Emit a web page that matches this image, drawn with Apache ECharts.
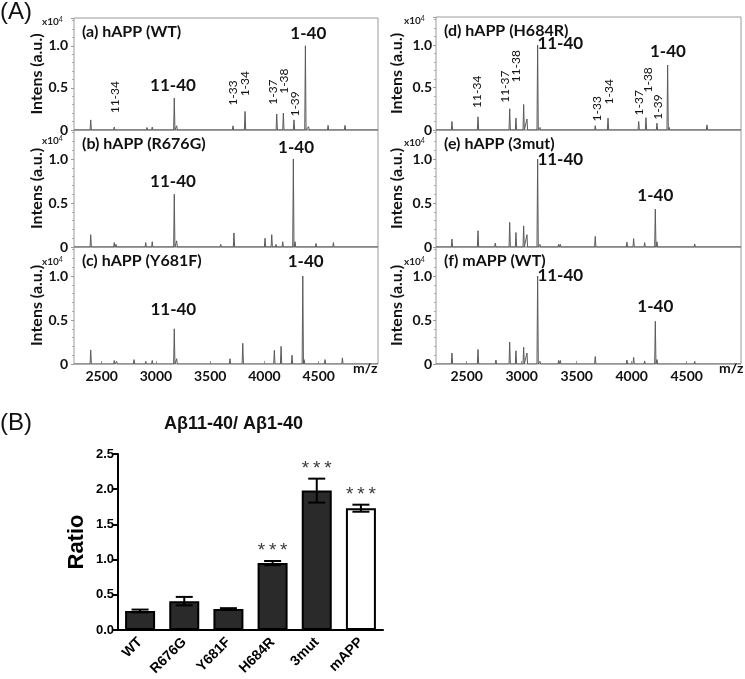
<!DOCTYPE html>
<html><head><meta charset="utf-8">
<script src="https://cdn.jsdelivr.net/npm/echarts@6/dist/echarts.min.js"></script>
<style>html,body{margin:0;padding:0;background:#fff}#c{width:745px;height:679px}</style>
</head><body><div id="c"></div><script>
// ================= DATA =================
const mzTicks = [2500, 3000, 3500, 4000, 4500];
const intensTicks = [0, 0.5, 1.0];
const panelTitles = ['(a) hAPP (WT)', '(b) hAPP (R676G)', '(c) hAPP (Y681F)', '(d) hAPP (H684R)', '(e) hAPP (3mut)', '(f) mAPP (WT)'];

// peaks (m/z, intensity x10^4)
const aMz  = [2399, 2616, 2638, 2798, 2918, 2966, 3068, 3169, 3191, 3376, 3710, 3821, 3904, 4051, 4113, 4174, 4272, 4377, 4406, 4586, 4742];
const aInt = [0.12, 0.035, 0.02, 0.02, 0.03, 0.035, 0.02, 0.38, 0.05, 0.02, 0.05, 0.22, 0.02, 0.02, 0.19, 0.20, 0.12, 1.0, 0.04, 0.055, 0.055];
const bMz  = [2399, 2616, 2632, 2798, 2906, 2966, 3068, 3169, 3191, 3376, 3597, 3719, 4005, 4067, 4106, 4168, 4266, 4282, 4374, 4475, 4635];
const bInt = [0.14, 0.05, 0.03, 0.01, 0.05, 0.06, 0.02, 0.60, 0.07, 0.02, 0.03, 0.16, 0.10, 0.14, 0.03, 0.06, 1.0, 0.06, 0.02, 0.04, 0.05];
const cMz  = [2399, 2616, 2638, 2798, 2906, 2966, 3068, 3169, 3191, 3376, 3682, 3800, 3882, 4021, 4091, 4153, 4254, 4353, 4365, 4558, 4718];
const cInt = [0.16, 0.04, 0.03, 0.05, 0.03, 0.04, 0.02, 0.40, 0.06, 0.01, 0.06, 0.235, 0.02, 0.02, 0.155, 0.20, 0.10, 1.0, 0.05, 0.05, 0.07];
const dMz  = [2366, 2603, 2760, 2827, 2891, 2948, 3018, 3048, 3145, 3166, 3351, 3555, 3669, 3785, 3866, 4064, 4130, 4230, 4327, 4342, 4539, 4685];
const dInt = [0.10, 0.155, 0.015, 0.01, 0.25, 0.14, 0.30, 0.13, 1.0, 0.03, 0.02, 0.01, 0.05, 0.14, 0.02, 0.10, 0.145, 0.08, 0.765, 0.03, 0.02, 0.06];
const eMz  = [2366, 2603, 2760, 2821, 2891, 2948, 3018, 3048, 3145, 3166, 3336, 3351, 3555, 3669, 3957, 4018, 4118, 4215, 4230, 4421, 4573];
const eInt = [0.09, 0.185, 0.045, 0.02, 0.28, 0.165, 0.24, 0.14, 1.0, 0.03, 0.03, 0.03, 0.02, 0.12, 0.055, 0.095, 0.05, 0.43, 0.06, 0.01, 0.035];
const fMz  = [2366, 2603, 2766, 2891, 2948, 3018, 3048, 3145, 3166, 3336, 3351, 3555, 3669, 3957, 4018, 4118, 4215, 4230, 4421, 4573];
const fInt = [0.125, 0.165, 0.045, 0.25, 0.15, 0.19, 0.125, 1.0, 0.03, 0.04, 0.04, 0.02, 0.085, 0.045, 0.075, 0.035, 0.485, 0.05, 0.01, 0.03];

// peak annotations: text, m/z position, intensity position
const aLabText = ['11-34', '11-40', '1-33', '1-34', '1-37', '1-38', '1-39', '1-40'];
const aLabMz   = [2623, 3157, 3710, 3821, 4080, 4180, 4282, 4404];
const aLabY    = [0.39, 0.53, 0.44, 0.55, 0.45, 0.58, 0.31, 1.15];
const bLabText = ['11-40', '1-40'];
const bLabMz   = [3157, 4291];
const bLabY    = [0.75, 1.13];
const cLabText = ['11-40', '1-40'];
const cLabMz   = [3160, 4380];
const cLabY    = [0.62, 1.17];
const dLabText = ['11-34', '11-37', '11-38', '11-40', '1-33', '1-34', '1-37', '1-38', '1-39', '1-40'];
const dLabMz   = [2594, 2845, 2948, 3351, 3685, 3796, 4064, 4148, 4239, 4330];
const dLabY    = [0.45, 0.51, 0.75, 1.02, 0.25, 0.45, 0.32, 0.59, 0.27, 0.92];
const eLabText = ['11-40', '1-40'];
const eLabMz   = [3351, 4215];
const eLabY    = [1.00, 0.58];
const fLabText = ['11-40', '1-40'];
const fLabMz   = [3351, 4215];
const fLabY    = [1.01, 0.65];
const mainPeakNames = ['11-40', '1-40'];

// bar chart
const barCats  = ['WT', 'R676G', 'Y681F', 'H684R', '3mut', 'mAPP'];
const barMean  = [0.27, 0.41, 0.30, 0.95, 1.98, 1.73];
const barErr   = [0.02, 0.06, 0.01, 0.03, 0.17, 0.05];
const barSig   = ['', '', '', '***', '***', '***'];

// ================= LAYOUT =================
const colLeft  = [74, 436];
const colWidth = [304, 305];
const colMin   = [2245, 2221];
const colMax   = [5046, 4994];
const rowTop   = [[18, 130, 247], [17, 130, 247]];
const rowH     = [[112, 117, 117], [113, 117, 117]];
const expTop   = [[16, 135, 256], [15, 137, 256]];
const panels = [
  {mz: aMz, it: aInt, lt: aLabText, lm: aLabMz, ly: aLabY},
  {mz: bMz, it: bInt, lt: bLabText, lm: bLabMz, ly: bLabY},
  {mz: cMz, it: cInt, lt: cLabText, lm: cLabMz, ly: cLabY},
  {mz: dMz, it: dInt, lt: dLabText, lm: dLabMz, ly: dLabY},
  {mz: eMz, it: eInt, lt: eLabText, lm: eLabMz, ly: eLabY},
  {mz: fMz, it: fInt, lt: fLabText, lm: fLabMz, ly: fLabY}
];
const SF = 'Lato, "Open Sans", sans-serif';
const AF = '"Liberation Sans", Arial, sans-serif';
const CLEAR = 'rgba(0,0,0,0)';

function spectrum(mz, it, xmin, xmax) {
  const idx = mz.map((m, i) => i).sort((p, q) => mz[p] - mz[q]);
  const pts = [[xmin, 0]];
  const w = 6;
  idx.forEach(i => {
    pts.push([mz[i] - w, 0]);
    pts.push([mz[i], it[i]]);
    pts.push([mz[i] + w, 0]);
  });
  pts.push([xmax, 0]);
  return pts;
}

const grid = [], xAxis = [], yAxis = [], series = [], graphic = [];
panels.forEach((p, k) => {
  const col = k < 3 ? 0 : 1, row = k % 3;
  const top = rowTop[col][row], h = rowH[col][row];
  grid.push({left: colLeft[col], top: top, width: colWidth[col], height: h, show: true,
    borderColor: '#9a9a9a', borderWidth: 1, containLabel: false});
  const bottomRow = row === 2;
  xAxis.push({type: 'value', gridIndex: k, min: colMin[col], max: colMax[col],
    axisLine: {show: false}, splitLine: {show: false},
    axisTick: {show: bottomRow, inside: true, length: 3, lineStyle: {color: '#999'}, customValues: mzTicks},
    axisLabel: {show: bottomRow, customValues: mzTicks, margin: 5, color: '#111', fontFamily: SF, fontWeight: 'bold', fontSize: 14,
      formatter: v => String(Math.round(v))}
  });
  yAxis.push({type: 'value', gridIndex: k, min: 0, max: 1.33, interval: 0.5,
    name: 'Intens (a.u.)', nameLocation: 'middle', nameGap: col === 0 ? 29 : 31,
    nameTextStyle: {fontFamily: SF, fontWeight: 'bold', fontSize: 16, color: '#111'},
    axisLine: {show: false}, splitLine: {show: false},
    axisTick: {show: true, length: 3, lineStyle: {color: '#999'}},
    minorTick: {show: true, splitNumber: 5, length: 2, lineStyle: {color: '#aaa'}},
    axisLabel: {margin: col === 0 ? 6 : 4, color: '#111', fontFamily: SF, fontWeight: 'bold', fontSize: 14,
      formatter: v => {
        const r = intensTicks.find(t => Math.abs(t - v) < 1e-6);
        if (r === undefined) return '';
        return r === 0 ? '0' : r.toFixed(1);
      }}
  });
  series.push({type: 'line', xAxisIndex: k, yAxisIndex: k, data: spectrum(p.mz, p.it, colMin[col], colMax[col]),
    symbol: 'none', silent: true, animation: false,
    lineStyle: {color: '#5a5a5a', width: 1}});
  series.push({type: 'scatter', xAxisIndex: k, yAxisIndex: k, symbolSize: 1, itemStyle: {color: CLEAR}, silent: true, animation: false, z: 5,
    data: p.lt.map((t, i) => {
      const main = mainPeakNames.includes(t);
      return {value: [p.lm[i], p.ly[i]], label: {show: true, position: 'inside', formatter: t,
        rotate: main ? 0 : 90, fontFamily: SF, fontWeight: main ? 'bold' : 'normal',
        fontSize: main ? 17 : 12, color: '#111', opacity: 1}};
    })});
  graphic.push({type: 'text', left: colLeft[col] + 8, top: top + 6,
    style: {text: panelTitles[k], font: 'bold 16px ' + SF, fill: '#111'}});
  graphic.push({type: 'text', left: colLeft[col] - 32, top: expTop[col][row],
    style: {text: '{a|x10}{b|4}', rich: {a: {font: 'bold 10px ' + SF, fill: '#222'}, b: {font: '7px ' + SF, fill: '#222', verticalAlign: 'top', padding: [0, 0, 5, 0]}}}});
});
graphic.push({type: 'text', left: 353, top: 361, style: {text: 'm/z', font: 'bold 14px ' + SF, fill: '#111'}});
graphic.push({type: 'text', left: 719, top: 361, style: {text: 'm/z', font: 'bold 14px ' + SF, fill: '#111'}});
graphic.push({type: 'text', left: 0, top: 0, style: {text: '(A)', font: '24px ' + AF, fill: '#111'}});
graphic.push({type: 'text', left: 0, top: 411, style: {text: '(B)', font: '24px ' + AF, fill: '#111'}});
graphic.push({type: 'text', left: 164, top: 415, style: {text: 'Aβ11-40/ Aβ1-40', font: 'bold 18px ' + AF, fill: '#111'}});

// ---- bar chart ----
const B = 6;
grid.push({left: 118, top: 454, width: 265, height: 176, containLabel: false});
xAxis.push({type: 'category', gridIndex: B, data: barCats,
  axisLine: {lineStyle: {color: '#000', width: 2}},
  axisTick: {alignWithLabel: true, length: 6, lineStyle: {color: '#000', width: 2}},
  axisLabel: {rotate: 45, margin: 10, color: '#000', fontFamily: AF, fontWeight: 'bold', fontSize: 14}});
yAxis.push({type: 'value', gridIndex: B, min: 0, max: 2.5, interval: 0.5,
  name: 'Ratio', nameLocation: 'middle', nameGap: 30,
  nameTextStyle: {fontFamily: AF, fontWeight: 'bold', fontSize: 22, color: '#000'},
  axisLine: {show: true, lineStyle: {color: '#000', width: 2}},
  axisTick: {show: true, length: 6, lineStyle: {color: '#000', width: 2}},
  splitLine: {show: false},
  axisLabel: {margin: 4, color: '#000', fontFamily: AF, fontWeight: 'bold', fontSize: 13, formatter: v => v.toFixed(1)}});
series.push({type: 'bar', xAxisIndex: B, yAxisIndex: B, barWidth: 30, animation: false,
  data: barMean.map((v, i) => ({value: v, itemStyle: {color: barCats[i] === 'mAPP' ? '#ffffff' : '#2a2a2a', borderColor: '#000', borderWidth: 2}}))});
series.push({type: 'custom', xAxisIndex: B, yAxisIndex: B, animation: false, z: 5,
  data: barMean.map((v, i) => [i, v, barErr[i]]),
  renderItem: (params, api) => {
    const x = api.value(0), m = api.value(1), e = api.value(2);
    const t = api.coord([x, m + e]), b = api.coord([x, m - e]);
    const hw = 8.5, st = {stroke: '#000', lineWidth: 2};
    return {type: 'group', children: [
      {type: 'line', shape: {x1: t[0], y1: t[1], x2: b[0], y2: b[1]}, style: st},
      {type: 'line', shape: {x1: t[0] - hw, y1: t[1], x2: t[0] + hw, y2: t[1]}, style: st},
      {type: 'line', shape: {x1: b[0] - hw, y1: b[1], x2: b[0] + hw, y2: b[1]}, style: st}
    ]};
  }});
series.push({type: 'scatter', xAxisIndex: B, yAxisIndex: B, symbolSize: 1, itemStyle: {color: CLEAR}, animation: false, z: 6,
  data: barMean.map((v, i) => barSig[i] ? {value: [i, v + barErr[i]], label: {show: true, position: 'top', distance: 0,
    formatter: barSig[i].split('').join('\u2009'), fontFamily: AF, fontSize: 19, color: '#3a3a3a', opacity: 1}} : null).filter(d => d)});

const chart = echarts.init(document.getElementById('c'), null, {renderer: 'canvas'});
chart.setOption({animation: false, backgroundColor: '#fff', grid, xAxis, yAxis, series, graphic});
</script></body></html>
